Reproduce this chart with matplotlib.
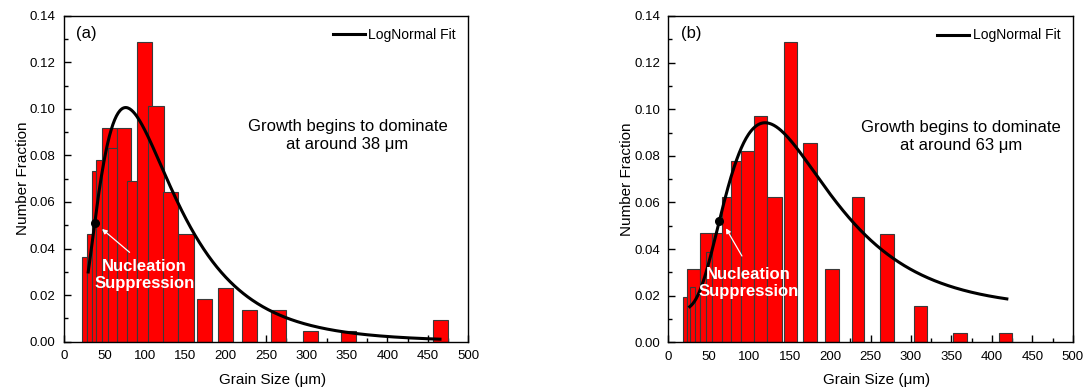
import numpy as np
import matplotlib
matplotlib.use("Agg")
import matplotlib.pyplot as plt

plt.rcParams['font.family'] = ['Liberation Sans', 'DejaVu Sans']

# panel (a) histogram bars (left edge, right edge, number fraction), in drawing order
a_left = [22.7, 28.0, 34.2, 39.6, 47.4, 65.2, 54.8, 77.5, 89.9, 104.4, 122.1, 141.5,
          164.2, 190.2, 220.7, 255.8, 296.2, 342.4, 456.3]
a_right = [28.0, 34.2, 39.6, 47.4, 65.2, 82.9, 65.2, 89.9, 108.5, 123.8, 140.7, 160.9,
           182.8, 208.8, 239.2, 274.4, 314.0, 361.0, 474.9]
a_frac = [0.0365, 0.0461, 0.0734, 0.0780, 0.0918, 0.0918, 0.0830, 0.0689, 0.1286, 0.1011,
          0.0644, 0.0461, 0.0182, 0.0229, 0.0137, 0.0137, 0.0045, 0.0045, 0.0092]

# panel (b) histogram bars
b_left = [17.8, 22.7, 26.8, 39.2, 46.6, 53.6, 66.0, 77.1, 89.5, 106.0, 122.4, 143.1,
          166.9, 193.7, 226.8, 261.7, 303.8, 352.4, 408.9]
b_right = [22.7, 39.2, 33.0, 53.6, 53.6, 66.0, 77.1, 89.5, 106.0, 122.4, 140.2, 159.5,
           183.5, 211.1, 242.0, 279.0, 320.2, 368.9, 425.3]
b_frac = [0.0196, 0.0313, 0.0236, 0.0468, 0.0386, 0.0468, 0.0625, 0.0778, 0.0821, 0.0972,
          0.0625, 0.1288, 0.0856, 0.0313, 0.0623, 0.0466, 0.0156, 0.0039, 0.0039]

# LogNormal fit parameters (Origin form: y0 + A/(sqrt(2pi) w x) exp(-ln(x/xc)^2 / (2 w^2)))
a_y0, a_xc, a_w, a_A = 0.0, 109.4, 0.60, 13.82
a_range = (30, 465)
a_dot = 38     # growth begins to dominate (um)

b_y0, b_xc, b_w, b_A = 0.014, 157.5, 0.5244, 14.47
b_range = (26.5, 418.5)
b_dot = 63


def lognormal(x, y0, xc, w, A):
    return y0 + A / (np.sqrt(2 * np.pi) * w * x) * np.exp(-np.log(x / xc) ** 2 / (2 * w ** 2))


def draw_panel(ax, left, right, frac, fit, xr, dot, label, grow_xy, nuc_xy, arrow_tail):
    left = np.array(left)
    right = np.array(right)
    ax.bar(left, frac, width=right - left, align='edge', color='#ff0000',
           edgecolor='#3a3a3a', linewidth=0.8, zorder=2)

    xs = np.linspace(xr[0], xr[1], 400)
    ax.plot(xs, lognormal(xs, *fit), color='black', lw=2.2, label='LogNormal Fit', zorder=3)
    ydot = lognormal(dot, *fit)
    ax.plot([dot], [ydot], 'o', color='black', ms=5.5, zorder=4)

    # white arrow and label for nucleation suppression
    ax.annotate('', xy=(dot + 6.5, ydot - 0.002), xytext=arrow_tail,
                arrowprops=dict(arrowstyle='-|>', color='white', lw=0.9,
                                mutation_scale=7), zorder=5)
    ax.text(nuc_xy[0], nuc_xy[1], 'Nucleation\nSuppression', color='white',
            fontsize=12, fontweight='bold', ha='center', va='center',
            linespacing=1.15, zorder=5)

    ax.text(grow_xy[0], grow_xy[1], 'Growth begins to dominate\nat around %d \u03bcm' % dot,
            fontsize=12, ha='center', va='center', linespacing=1.25)
    ax.text(15.5, 0.1323, label, fontsize=12, ha='left', va='center')

    ax.set_xlim(0, 500)
    ax.set_ylim(0, 0.14)
    ax.set_xticks(np.arange(0, 501, 50))
    ax.set_xticks(np.arange(25, 500, 50), minor=True)
    ax.set_yticks(np.arange(0, 0.141, 0.02))
    ax.set_yticks(np.arange(0.01, 0.14, 0.02), minor=True)
    ax.yaxis.set_major_formatter(matplotlib.ticker.FormatStrFormatter('%.2f'))
    ax.tick_params(which='both', direction='in', labelsize=9.5, colors='black')
    ax.tick_params(which='major', length=5, width=1)
    ax.tick_params(which='minor', length=3, width=1)
    ax.tick_params(axis='x', which='major', pad=6)
    ax.tick_params(axis='y', which='major', pad=6)
    for s in ax.spines.values():
        s.set_linewidth(1)
    ax.set_xlabel('Grain Size (\u03bcm)', fontsize=11)
    ax.xaxis.set_label_coords(0.515, -0.095)
    ax.set_ylabel('Number Fraction', fontsize=11, labelpad=0)
    ax.legend(loc='upper right', frameon=False, fontsize=10, handlelength=2.3,
              handletextpad=0.25, borderaxespad=0.5)


fig = plt.figure(figsize=(10.86, 3.89), dpi=100)
ax1 = fig.add_axes([0.0589, 0.1216, 0.3723, 0.838])
ax2 = fig.add_axes([0.6154, 0.1200, 0.3724, 0.8389])

draw_panel(ax1, a_left, a_right, a_frac, (a_y0, a_xc, a_w, a_A), a_range, a_dot, '(a)',
           (350.7, 0.0886), (99.6, 0.0286), (83.8, 0.0376))
draw_panel(ax2, b_left, b_right, b_frac, (b_y0, b_xc, b_w, b_A), b_range, b_dot, '(b)',
           (362.1, 0.0881), (99.0, 0.0256), (92.7, 0.0360))

fig.savefig('out.png', dpi=100)
